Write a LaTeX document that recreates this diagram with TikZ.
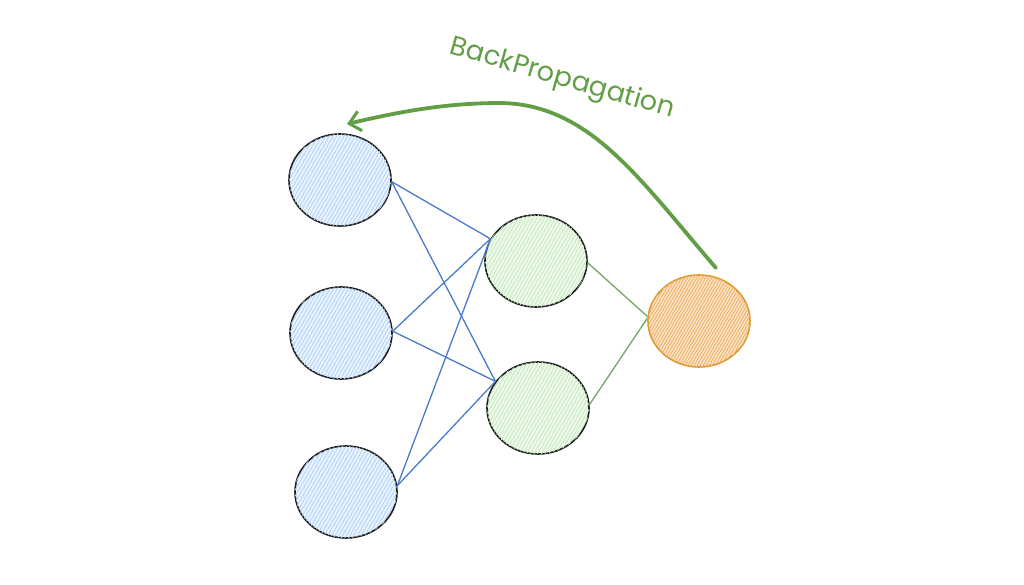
\documentclass[tikz,border=0pt]{standalone}
\usepackage{fontspec}
\setmainfont{Poppins}
\usetikzlibrary{arrows.meta,patterns.meta,shapes.geometric}
\definecolor{bluestroke}{RGB}{74,122,204}
\definecolor{bluefill}{RGB}{233,243,255}
\definecolor{bluehatch}{RGB}{176,210,250}
\definecolor{greenfill}{RGB}{238,249,234}
\definecolor{greenhatch}{RGB}{196,234,190}
\definecolor{greenstroke}{RGB}{112,170,96}
\definecolor{arrowgreen}{RGB}{98,158,70}
\definecolor{orangestroke}{RGB}{222,150,40}
\definecolor{orangefill}{RGB}{252,228,200}
\definecolor{orangehatch}{RGB}{238,176,104}
\definecolor{darkstroke}{RGB}{30,30,30}
\tikzset{
  neuron/.style={ellipse, draw=darkstroke, line width=1.6pt, inner sep=0pt,
    minimum width=102pt, minimum height=92pt},
  inneuron/.style={neuron, fill=bluefill,
    postaction={pattern={Lines[angle=60,distance=3.2pt,line width=0.8pt]}, pattern color=bluehatch}},
  hidneuron/.style={neuron, fill=greenfill,
    postaction={pattern={Lines[angle=60,distance=3.2pt,line width=0.8pt]}, pattern color=greenhatch}},
  outneuron/.style={neuron, draw=orangestroke, fill=orangefill,
    postaction={pattern={Lines[angle=60,distance=2.6pt,line width=0.9pt]}, pattern color=orangehatch}},
  blueedge/.style={draw=bluestroke, line width=1.3pt},
  greenedge/.style={draw=greenstroke, line width=1.3pt},
  backarrow/.style={draw=arrowgreen, line width=3.8pt, line cap=round,
    -{Straight Barb[length=11pt,width=20pt,line width=3pt]}},
  lbl/.style={text=arrowgreen, font=\fontsize{27}{31}\selectfont}
}
\begin{document}
\begin{tikzpicture}[x=1pt,y=-1pt]
\useasboundingbox (0,0) rectangle (1024,585);
\node[inneuron] (i1) at (340,180) {};
\node[inneuron] (i2) at (341,333) {};
\node[inneuron] (i3) at (346,492) {};
\node[hidneuron] (h1) at (536,261) {};
\node[hidneuron] (h2) at (538,408) {};
\node[outneuron] (o) at (699,321) {};
\draw[blueedge] (i1.-2) -- (h1.154);
\draw[blueedge] (i1.-2) -- (h2.148);
\draw[blueedge] (i2.2) -- (h1.154);
\draw[blueedge] (i2.2) -- (h2.148);
\draw[blueedge] (i3.7) -- (h1.154);
\draw[blueedge] (i3.7) -- (h2.148);
\draw[greenedge] (h1.-2) -- (o.175);
\draw[greenedge] (h2.4) -- (o.177);
\coordinate (bstart) at (716,268);
\coordinate (bend) at (347,124);
\draw[backarrow] (bstart) .. controls (640,180) and (590,104) .. (500,103) .. controls (440,103) and (390,114) .. (bend);
\node[lbl, rotate=-16] (bp) at (562,79) {BackPropagation};
\end{tikzpicture}
\end{document}
